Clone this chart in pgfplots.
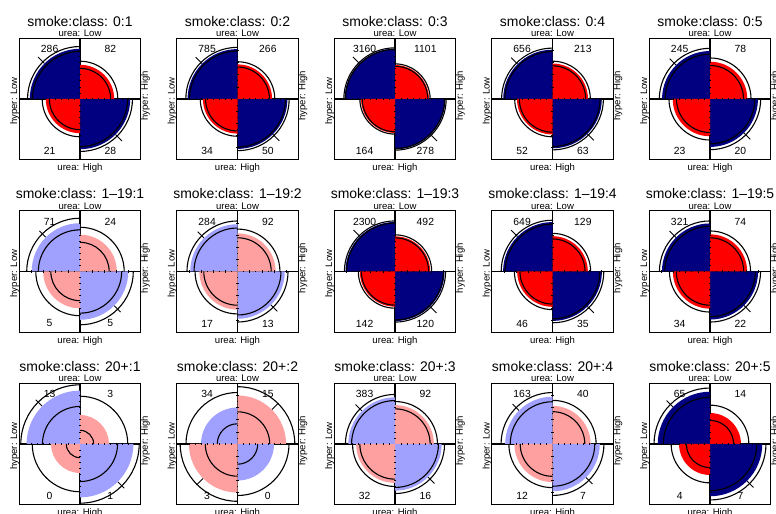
\documentclass[border=0pt]{standalone}
\usepackage{pgfplots}
\pgfplotsset{compat=1.18}
\usepackage{fontspec}
\setmainfont{Liberation Sans}
\definecolor{dblue}{HTML}{000080}
\definecolor{dred}{HTML}{FF0000}
\definecolor{lblue}{HTML}{A0A0FF}
\definecolor{lred}{HTML}{FFA0A0}
\newcommand\ttlfont{\fontsize{14}{16}\selectfont}
\newcommand\labfont{\fontsize{9.6}{11}\selectfont}
\newcommand\cntfont{\fontsize{10.4}{12}\selectfont}

% quarter-disc marks (radius = mark size)
\newcommand\defquarter[2]{%
 \pgfdeclareplotmark{qf#1}{\pgfpathmoveto{\pgfpointorigin}\pgfpathlineto{\pgfpointpolar{#1}{\the\pgfplotmarksize}}\pgfpatharc{#1}{#2}{\the\pgfplotmarksize}\pgfpathclose\pgfusepathqfill}%
 \pgfdeclareplotmark{qa#1}{\pgfpathmoveto{\pgfpointpolar{#1}{\the\pgfplotmarksize}}\pgfpatharc{#1}{#2}{\the\pgfplotmarksize}\pgfusepathqstroke}%
}
\defquarter{0}{90}\defquarter{90}{180}\defquarter{180}{270}\defquarter{270}{360}

\pgfplotsset{ring/.style={only marks, color=black, line width=1.1bp}}

% #1 x, #2 y, #3 title, #4 TL, #5 TR, #6 BL, #7 BR, #8 dark shading (1/0)
\newcommand\ffpanel[8]{%
 \pgfmathsetmacro\cc{((#4==0)||(#5==0)||(#6==0)||(#7==0)) ? 0.5 : 0}%
 \pgfmathsetmacro\LL{ln(#4+\cc)+ln(#7+\cc)-ln(#5+\cc)-ln(#6+\cc)}%
 \pgfmathsetmacro\SE{sqrt(1/(#4+\cc)+1/(#5+\cc)+1/(#6+\cc)+1/(#7+\cc))}%
 \pgfmathsetmacro\uu{1/(1+exp(-\LL/2))}%
 \pgfmathsetmacro\ul{1/(1+exp(-(\LL-1.96*\SE)/2))}%
 \pgfmathsetmacro\uh{1/(1+exp(-(\LL+1.96*\SE)/2))}%
 \pgfmathsetmacro\rD{sqrt(\uu)*60.75}%
 \pgfmathsetmacro\rO{sqrt(1-\uu)*60.75}%
 \pgfmathsetmacro\rDl{sqrt(\ul)*60.75}%
 \pgfmathsetmacro\rOl{sqrt(1-\ul)*60.75}%
 \pgfmathsetmacro\rDh{sqrt(\uh)*60.75}%
 \pgfmathsetmacro\rOh{sqrt(1-\uh)*60.75}%
 \pgfmathsetmacro\rT{max(\rD,\rO)/60.75}%
 \pgfmathsetmacro\sgn{(\LL>=0) ? -1 : 1}%
 \pgfmathsetmacro\tax{\sgn*\rT*0.70711}\pgfmathsetmacro\tay{\rT*0.70711}%
 \pgfmathsetmacro\tbx{\sgn*(\rT+0.15)*0.70711}\pgfmathsetmacro\tby{(\rT+0.15)*0.70711}%
 \pgfmathsetmacro\nax{-\tax}\pgfmathsetmacro\nay{-\tay}%
 \pgfmathsetmacro\nbx{-\tbx}\pgfmathsetmacro\nby{-\tby}%
 \ifnum#8=1 \def\cD{dblue}\def\cO{dred}\else\def\cD{lblue}\def\cO{lred}\fi
 \begin{axis}[at={(#1bp,#2bp)}, anchor=center, scale only axis,
   width=121.5bp, height=121.5bp, xmin=-1, xmax=1, ymin=-1, ymax=1,
   xtick=\empty, ytick=\empty, axis line style={line width=0.9bp}, clip=false]
 \addplot[only marks, mark=qf90, mark size=\rD bp, color=\cD] coordinates {(0,0)};
 \addplot[only marks, mark=qf270, mark size=\rD bp, color=\cD] coordinates {(0,0)};
 \addplot[only marks, mark=qf0, mark size=\rO bp, color=\cO] coordinates {(0,0)};
 \addplot[only marks, mark=qf180, mark size=\rO bp, color=\cO] coordinates {(0,0)};
 \addplot[ring, mark=qa90, mark size=\rDl bp] coordinates {(0,0)};
 \addplot[ring, mark=qa90, mark size=\rDh bp] coordinates {(0,0)};
 \addplot[ring, mark=qa270, mark size=\rDl bp] coordinates {(0,0)};
 \addplot[ring, mark=qa270, mark size=\rDh bp] coordinates {(0,0)};
 \addplot[ring, mark=qa0, mark size=\rOl bp] coordinates {(0,0)};
 \addplot[ring, mark=qa0, mark size=\rOh bp] coordinates {(0,0)};
 \addplot[ring, mark=qa180, mark size=\rOl bp] coordinates {(0,0)};
 \addplot[ring, mark=qa180, mark size=\rOh bp] coordinates {(0,0)};
 \addplot[black, line width=1.6bp] coordinates {(-1,0) (1,0)};
 \addplot[black, line width=1.6bp] coordinates {(0,-1) (0,1)};
 \addplot[only marks, mark=|, mark size=1.4bp, line width=0.6bp, black] coordinates {(-0.8,0)(-0.6,0)(-0.4,0)(-0.2,0)(0.2,0)(0.4,0)(0.6,0)(0.8,0)};
 \addplot[only marks, mark=|, mark size=0.8bp, line width=0.6bp, black] coordinates {(-0.9,0)(-0.7,0)(-0.5,0)(-0.3,0)(-0.1,0)(0.1,0)(0.3,0)(0.5,0)(0.7,0)(0.9,0)};
 \addplot[only marks, mark=-, mark size=1.4bp, line width=0.6bp, black] coordinates {(0,-0.8)(0,-0.6)(0,-0.4)(0,-0.2)(0,0.2)(0,0.4)(0,0.6)(0,0.8)};
 \addplot[only marks, mark=-, mark size=0.8bp, line width=0.6bp, black] coordinates {(0,-0.9)(0,-0.7)(0,-0.5)(0,-0.3)(0,-0.1)(0,0.1)(0,0.3)(0,0.5)(0,0.7)(0,0.9)};
 \addplot[black, line width=1bp] coordinates {(\tax,\tay) (\tbx,\tby)};
 \addplot[black, line width=1bp] coordinates {(\nax,\nay) (\nbx,\nby)};
 \addplot[only marks, mark=none, nodes near coords, point meta=explicit symbolic,
   every node near coord/.append style={font=\cntfont, anchor=center, inner sep=0pt}]
   coordinates {(-0.5,0.82)[#4] (0.5,0.82)[#5] (-0.5,-0.855)[#6] (0.5,-0.855)[#7]};
 \node[font=\ttlfont, anchor=base, yshift=12bp] at (rel axis cs:0.5,1) {#3};
 \node[font=\labfont, anchor=base, inner sep=0pt, yshift=1.6bp] at (rel axis cs:0.5,1) {urea: Low};
 \node[font=\labfont, anchor=north, inner sep=0pt, yshift=-4bp] at (rel axis cs:0.5,0) {urea: High};
 \node[font=\labfont, rotate=90, anchor=south, inner sep=0pt, xshift=-2bp] at (rel axis cs:0,0.5) {hyper: Low};
 \node[font=\labfont, rotate=90, anchor=north, inner sep=0pt, xshift=3.3bp] at (rel axis cs:1,0.5) {hyper: High};
 \end{axis}%
}

\begin{document}
\begin{tikzpicture}
\useasboundingbox (0,0) rectangle (776bp,514bp);
\clip (0,0) rectangle (776bp,514bp);
\ffpanel{80}{415}{smoke:class: 0:1}{286}{82}{21}{28}{1}
\ffpanel{237.5}{415}{smoke:class: 0:2}{785}{266}{34}{50}{1}
\ffpanel{395}{415}{smoke:class: 0:3}{3160}{1101}{164}{278}{1}
\ffpanel{552.5}{415}{smoke:class: 0:4}{656}{213}{52}{63}{1}
\ffpanel{710}{415}{smoke:class: 0:5}{245}{78}{23}{20}{1}
\ffpanel{80}{242.5}{smoke:class: 1--19:1}{71}{24}{5}{5}{0}
\ffpanel{237.5}{242.5}{smoke:class: 1--19:2}{284}{92}{17}{13}{0}
\ffpanel{395}{242.5}{smoke:class: 1--19:3}{2300}{492}{142}{120}{1}
\ffpanel{552.5}{242.5}{smoke:class: 1--19:4}{649}{129}{46}{35}{1}
\ffpanel{710}{242.5}{smoke:class: 1--19:5}{321}{74}{34}{22}{1}
\ffpanel{80}{70}{smoke:class: 20+:1}{13}{3}{0}{1}{0}
\ffpanel{237.5}{70}{smoke:class: 20+:2}{34}{15}{3}{0}{0}
\ffpanel{395}{70}{smoke:class: 20+:3}{383}{92}{32}{16}{0}
\ffpanel{552.5}{70}{smoke:class: 20+:4}{163}{40}{12}{7}{0}
\ffpanel{710}{70}{smoke:class: 20+:5}{65}{14}{4}{7}{1}
\end{tikzpicture}
\end{document}
